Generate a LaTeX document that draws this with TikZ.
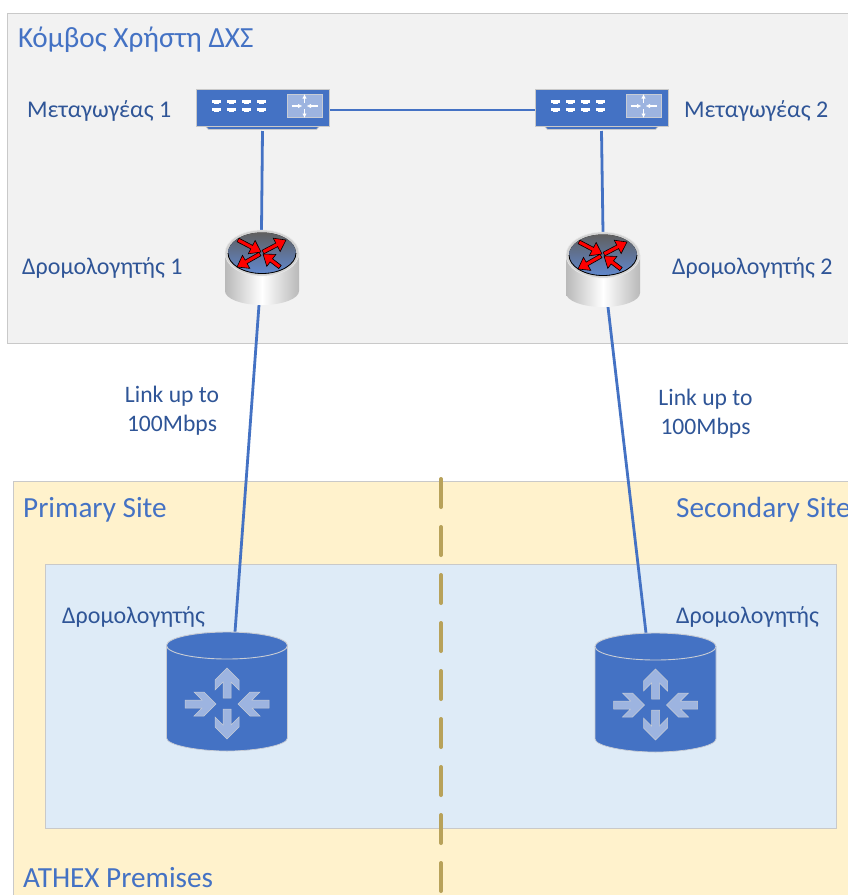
\documentclass[tikz,border=0pt]{standalone}
\usepackage{fontspec}
\usetikzlibrary{arrows.meta}
\setmainfont{Carlito}
\definecolor{blueA}{HTML}{4472C4}
\definecolor{blueT}{HTML}{2F5597}
\definecolor{panelG}{HTML}{F2F2F2}
\definecolor{edgeG}{HTML}{C9C9C9}
\definecolor{yel}{HTML}{FFF2CC}
\definecolor{lblue}{HTML}{DEEBF7}
\definecolor{dashc}{HTML}{B8A25A}
\definecolor{arrowL}{HTML}{9DB4E0}
\definecolor{iconE}{HTML}{C8CCD4}
\tikzset{
  x=1pt,y=-1pt,
  panel/.style={draw=edgeG,line width=0.8pt},
  link/.style={draw=blueA,line width=2.8pt},
  box/.style={inner sep=0pt,outer sep=0pt,rectangle},
  title/.style={anchor=west,inner sep=0pt,text=blueA,font=\fontsize{29.2}{33}\selectfont},
  lbl/.style={anchor=west,inner sep=0pt,text=blueT,font=\fontsize{24}{29}\selectfont},
  note/.style={inner sep=0pt,align=center,text=blueT,font=\fontsize{23.6}{29}\selectfont},
}
% red router arrow: start (#1,#2) tip (#3,#4)
\newcommand{\redarrow}[4]{%
  \pgfmathsetmacro{\dxv}{#3-(#1)}\pgfmathsetmacro{\dyv}{#4-(#2)}%
  \pgfmathsetmacro{\angv}{atan2(-\dyv,\dxv)}\pgfmathsetmacro{\lenv}{veclen(\dxv,\dyv)}%
  \begin{scope}[shift={(#1,#2)},rotate=\angv]
    \fill[red,draw=black,line width=0.6pt,line join=miter]
      (0,-2)--(\lenv-10.5,-2)--(\lenv-10.5,-7.5)--(\lenv,0)--(\lenv-10.5,7.5)--(\lenv-10.5,2)--(0,2)--cycle;
  \end{scope}}
% chevron arrow of the large router icon
\newcommand{\chevarrow}[4]{%
  \pgfmathsetmacro{\dxv}{#3-(#1)}\pgfmathsetmacro{\dyv}{#4-(#2)}%
  \pgfmathsetmacro{\angv}{atan2(-\dyv,\dxv)}\pgfmathsetmacro{\lenv}{veclen(\dxv,\dyv)}%
  \begin{scope}[shift={(#1,#2)},rotate=\angv]
    \fill[arrowL,draw=iconE,line width=0.5pt]
      (0,-4)--(\lenv-14,-4)--(\lenv-22,-12)--(\lenv-12,-12)--(\lenv,0)--(\lenv-12,12)--(\lenv-22,12)--(\lenv-14,4)--(0,4)--cycle;
  \end{scope}}
% switch icon centred on (#1,#2), the centre of the main box
\newcommand{\switchicon}[2]{%
  \begin{scope}[shift={(#1,#2)}]
    \fill[blueA,draw=edgeG,line width=0.8pt] (-54,21.5)--(54,21.5)--(58,17)--(-58,17)--cycle;
    \fill[blueA,draw=edgeG,line width=1pt] (-66.5,-18.5) rectangle (66.5,18);
    \foreach \px in {-51,-36,-21,-6}{
      \fill[white] (\px,-8.5) rectangle (\px+9,-5.5);
      \fill[white] (\px+2,-5.5) rectangle (\px+7,-4);
      \fill[white] (\px,-0.5) rectangle (\px+9,2.5);
      \fill[white] (\px+2,2.5) rectangle (\px+7,4);
    }
    \fill[arrowL,draw=iconE,line width=0.5pt] (24.5,-14) rectangle (59.5,9.5);
    \begin{scope}[white,line width=1.2pt,-{Latex[length=4.5pt,width=4.5pt]}]
      \draw (29,-2)--(40,-2);
      \draw (55,-2)--(44,-2);
      \draw (42,-5)--(42,-14);
      \draw (42,1)--(42,10);
    \end{scope}
  \end{scope}}
% small router: #1,#2 = centre of the top ellipse
\newcommand{\routericon}[2]{%
  \begin{scope}[shift={(#1,#2)}]
    \path[left color=gray!55,right color=gray!55,middle color=white]
      (-37,0)--(-37,38) arc[x radius=37,y radius=14,start angle=180,end angle=0] --(37,0)--cycle;
    \fill[gray!35,draw=gray!15,line width=0.5pt] (0,0) ellipse[x radius=37,y radius=23];
    \fill[top color=gray!75!black,bottom color=blueA!85] (0,0) ellipse[x radius=34,y radius=20.5];
    \draw[black,line width=0.8pt] (-34,0) arc[x radius=34,y radius=20.5,start angle=180,end angle=0];
    \redarrow{-24}{-13}{-1}{-1}
    \redarrow{1}{-1}{24}{-13}
    \redarrow{18}{14}{1}{1}
    \redarrow{-2}{1}{-25}{14}
  \end{scope}}
% large router: #1 = centre x, #2 = y of the top
\newcommand{\cylicon}[2]{%
  \begin{scope}[shift={(#1,#2)}]
    \fill[blueA,draw=iconE,line width=0.7pt]
      (-60.5,13.5)--(-60.5,106) .. controls (-60.5,113) and (-30,119) .. (0,119)
      .. controls (30,119) and (60.5,113) .. (60.5,106)--(60.5,13.5)--cycle;
    \fill[blueA,draw=iconE,line width=0.9pt] (0,13.5) ellipse[x radius=60.5,y radius=13.5];
    \begin{scope}[shift={(0,72)}]
      \chevarrow{0}{-6}{0}{-36}
      \chevarrow{0}{5}{0}{35}
      \chevarrow{-42}{0}{-11}{0}
      \chevarrow{42}{0}{11}{0}
    \end{scope}
  \end{scope}}
\begin{document}
\begin{tikzpicture}
\useasboundingbox (0,0) rectangle (848,895);
\clip (0,0) rectangle (848,895);
\fill[white] (0,0) rectangle (848,895);
% panels
\node[box,panel,fill=panelG,minimum width=851pt,minimum height=330pt,anchor=north west] (top) at (7,13) {};
\node[box,panel,fill=yel,minimum width=845pt,minimum height=424pt,anchor=north west] (site) at (13,481) {};
\node[box,panel,fill=lblue,minimum width=791pt,minimum height=264pt,anchor=north west] (inner) at (45,564) {};
% site divider
\coordinate (divtop) at (441,479);
\coordinate (divbot) at (441,900);
\draw[dashc,line width=4pt,line cap=round,dash pattern=on 28pt off 20pt] (divtop)--(divbot);
% device anchors
\node[box,minimum width=133pt,minimum height=42pt] (sw1) at (262.5,110) {};
\node[box,minimum width=133pt,minimum height=42pt] (sw2) at (601.5,110) {};
\node[box,minimum width=74pt,minimum height=75pt] (r1) at (261.5,267.5) {};
\node[box,minimum width=74pt,minimum height=75pt] (r2) at (603,269.5) {};
\node[box,minimum width=121pt,minimum height=119pt] (d1) at (227,691.5) {};
\node[box,minimum width=121pt,minimum height=119pt] (d2) at (655.5,692.5) {};
% connectors
\draw[link] (sw1.east)--(sw2.west);
\draw[link] (sw1.south)--(r1.north);
\draw[link] (sw2.south)--(r2.north);
\draw[link] ([xshift=-2.5pt]r1.south)--([xshift=8pt]d1.north);
\draw[link] ([xshift=5pt]r2.south)--([xshift=-9.5pt]d2.north);
% icons
\switchicon{262.5}{108}
\switchicon{601.5}{108}
\routericon{262}{253}
\routericon{603}{255}
\cylicon{227}{632}
\cylicon{655.5}{633}
% labels
\node[title] (t1) at (18,40) {Κόμβος Χρήστη ΔΧΣ};
\node[title] (t2) at (23,510) {Primary Site};
\node[title] (t3) at (676,510) {Secondary Site};
\node[title] (t4) at (23,878) {ATHEX Premises};
\node[lbl] (l1) at (27,111) {Μεταγωγέας 1};
\node[lbl] (l2) at (684,111) {Μεταγωγέας 2};
\node[lbl] (l3) at (22,268) {Δρομολογητής 1};
\node[lbl] (l4) at (672,268) {Δρομολογητής 2};
\node[lbl] (l5) at (62,617) {Δρομολογητής};
\node[lbl] (l6) at (676,617) {Δρομολογητής};
\node[note] (n1) at (172,411) {Link up to\\100Mbps};
\node[note] (n2) at (705.5,414) {Link up to\\100Mbps};
\end{tikzpicture}
\end{document}
